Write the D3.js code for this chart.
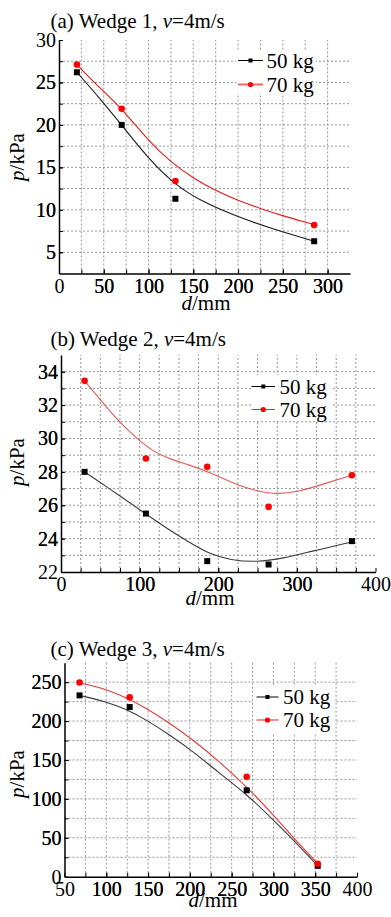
<!DOCTYPE html>
<html>
<head>
<meta charset="utf-8">
<script src="https://cdn.jsdelivr.net/npm/d3@7"></script>
<style>
body { margin: 0; background: #fff; }
</style>
</head>
<body>
<svg id="chart" width="391" height="917"></svg>
<script>
// (a) Wedge 1
var dA = [20, 70, 130, 285];
var pA50 = [26.2, 20.0, 11.3, 6.3];
var pA70 = [27.1, 21.9, 13.4, 8.2];
var fitDA50 = [20, 45, 70, 100, 130, 160, 200, 240, 285];
var fitPA50 = [26.2, 23.2, 20.0, 16.0, 12.9, 10.95, 9.15, 7.7, 6.3];
var fitDA70 = [20, 45, 70, 100, 125, 150, 175, 200, 225, 250, 275, 285];
var fitPA70 = [27.1, 24.4, 21.95, 18.1, 15.6, 13.7, 12.25, 11.1, 10.15, 9.3, 8.55, 8.25];
var xTicksA = [0, 50, 100, 150, 200, 250, 300];
var yTicksA = [5, 10, 15, 20, 25, 30];

// (b) Wedge 2
var dB = [30, 108, 186, 264, 370];
var pB50 = [28.0, 25.5, 22.65, 22.45, 23.85];
var pB70 = [33.45, 28.8, 28.3, 25.9, 27.8];
var fitDB50 = [30, 77, 107, 132, 162, 190, 215, 249, 283, 317, 370];
var fitPB50 = [28.0, 26.5, 25.5, 24.7, 23.8, 23.05, 22.72, 22.58, 22.82, 23.22, 23.8];
var fitDB70 = [30, 73, 98, 120, 141, 162, 190, 232, 270, 304, 338, 370];
var fitPB70 = [33.45, 31.0, 29.93, 29.13, 28.73, 28.43, 27.97, 27.03, 26.62, 26.82, 27.33, 27.8];
var xTicksB = [0, 100, 200, 300, 400];
var yTicksB = [22, 24, 26, 28, 30, 32, 34];

// (c) Wedge 3
var dC = [68, 128, 268, 353];
var pC50 = [233, 218, 111, 14];
var pC70 = [249.5, 230.5, 128.5, 16.7];
var fitDC50 = [68, 96, 124, 148, 176, 204, 233, 268, 300, 326, 353];
var fitPC50 = [232.8, 226.3, 215.3, 201.5, 182.2, 160.8, 135, 106, 72.9, 45, 14];
var fitDC70 = [68, 96, 124, 148, 176, 204, 233, 268, 300, 326, 353];
var fitPC70 = [249, 242.3, 230.2, 216.5, 197.3, 175.8, 150, 115.7, 79.4, 47.2, 17];
var xTicksC = [50, 100, 150, 200, 250, 300, 350, 400];
var yTicksC = [0, 50, 100, 150, 200, 250];

var seriesNames = ["50 kg", "70 kg"];

var FONT = "'Liberation Serif'";
var svg = d3.select("#chart");

function zip(a, b) {
    return a.map(function(v, i) { return [v, b[i]]; });
}

function drawPanel(cfg) {
    var g = svg.append("g");
    var x = d3.scaleLinear().domain(cfg.xDomain).range([cfg.left, cfg.right]);
    var y = d3.scaleLinear().domain(cfg.yDomain).range([cfg.bottom, cfg.top]);

    var xGrid = d3.range(cfg.xDomain[0] + cfg.xStep, cfg.xDomain[1] - cfg.xStep / 2, cfg.xStep);
    var yGrid = d3.range(cfg.yDomain[0] + cfg.yStep, cfg.yDomain[1] - cfg.yStep / 2, cfg.yStep);

    // dotted grid
    g.selectAll(".gx").data(xGrid).enter().append("line")
        .attr("x1", function(d) { return x(d); })
        .attr("x2", function(d) { return x(d); })
        .attr("y1", cfg.bottom).attr("y2", cfg.top)
        .attr("stroke", "#8a8a8a").attr("stroke-width", 0.9)
        .attr("stroke-dasharray", "2,2");
    g.selectAll(".gy").data(yGrid).enter().append("line")
        .attr("x1", cfg.left).attr("x2", cfg.right)
        .attr("y1", function(d) { return y(d); })
        .attr("y2", function(d) { return y(d); })
        .attr("stroke", "#8a8a8a").attr("stroke-width", 0.9)
        .attr("stroke-dasharray", "2,2");

    // white box behind legend
    g.append("rect")
        .attr("x", cfg.legBox[0]).attr("y", cfg.legBox[1])
        .attr("width", cfg.legBox[2]).attr("height", cfg.legBox[3])
        .attr("fill", "#fff");

    // axes
    var ax = g.append("g")
        .attr("transform", "translate(0," + cfg.bottom + ")")
        .call(d3.axisBottom(x).tickValues(xGrid.concat(cfg.xTicks))
            .tickSizeInner(-4).tickSizeOuter(0).tickPadding(5)
            .tickFormat(function(d) { return cfg.xTicks.indexOf(d) >= 0 ? d : ""; }));
    var ay = g.append("g")
        .attr("transform", "translate(" + cfg.left + ",0)")
        .call(d3.axisLeft(y).tickValues(yGrid.concat(cfg.yTicks))
            .tickSizeInner(-4).tickSizeOuter(0).tickPadding(3)
            .tickFormat(function(d) { return cfg.yTicks.indexOf(d) >= 0 ? d : ""; }));
    [ax, ay].forEach(function(a) {
        a.attr("font-family", null).attr("font-size", null);
        a.select(".domain").attr("stroke", "#000").attr("stroke-width", 1.5);
        a.selectAll(".tick line").attr("stroke", "#000").attr("stroke-width", 1);
        a.selectAll(".tick text").style("font-family", FONT)
            .style("font-size", "20px").attr("fill", "#000");
    });

    // fitted curves
    var line = d3.line()
        .x(function(d) { return x(d[0]); })
        .y(function(d) { return y(d[1]); })
        .curve(d3.curveBasis);
    g.append("path").datum(zip(cfg.fit50[0], cfg.fit50[1]))
        .attr("fill", "none").attr("stroke", cfg.col50).attr("stroke-width", 1.1)
        .attr("d", line);
    g.append("path").datum(zip(cfg.fit70[0], cfg.fit70[1]))
        .attr("fill", "none").attr("stroke", cfg.col70).attr("stroke-width", 1.1)
        .attr("d", line);

    // points
    g.selectAll(".sq").data(zip(cfg.d, cfg.p50)).enter().append("rect")
        .attr("x", function(d) { return x(d[0]) - 3; })
        .attr("y", function(d) { return y(d[1]) - 3; })
        .attr("width", 6).attr("height", 6)
        .attr("fill", "#000");
    g.selectAll(".ci").data(zip(cfg.d, cfg.p70)).enter().append("circle")
        .attr("cx", function(d) { return x(d[0]); })
        .attr("cy", function(d) { return y(d[1]); })
        .attr("r", 3.3)
        .attr("fill", "#ff0000");

    // legend
    var lg = cfg.leg;
    g.append("line").attr("x1", lg.x1).attr("x2", lg.x2).attr("y1", lg.y1).attr("y2", lg.y1)
        .attr("stroke", "#000").attr("stroke-width", 1);
    g.append("rect").attr("x", (lg.x1 + lg.x2) / 2 - 2).attr("y", lg.y1 - 2)
        .attr("width", 4).attr("height", 4).attr("fill", "#000");
    g.append("line").attr("x1", lg.x1).attr("x2", lg.x2).attr("y1", lg.y2).attr("y2", lg.y2)
        .attr("stroke", cfg.legRed).attr("stroke-width", cfg.legRedW);
    g.append("circle").attr("cx", (lg.x1 + lg.x2) / 2).attr("cy", lg.y2).attr("r", 2.6)
        .attr("fill", "#ff0000");
    g.append("text").attr("x", lg.tx).attr("y", lg.y1 + 7).style("font-family", FONT)
        .style("font-size", "21px").text(seriesNames[0]);
    g.append("text").attr("x", lg.tx).attr("y", lg.y2 + 7).style("font-family", FONT)
        .style("font-size", "21px").text(seriesNames[1]);

    // titles
    var t = g.append("text").attr("x", 50.5).attr("y", cfg.titleY)
        .style("font-family", FONT).style("font-size", "21px");
    t.append("tspan").text(cfg.title + ", ");
    t.append("tspan").style("font-style", "italic").text("v");
    t.append("tspan").text("=4m/s");

    var xl = g.append("text").attr("x", cfg.xLabX).attr("y", cfg.xLabY)
        .attr("text-anchor", "middle").style("font-family", FONT).style("font-size", "21px");
    xl.append("tspan").style("font-style", "italic").text("d");
    xl.append("tspan").text("/mm");

    var yl = g.append("text")
        .attr("transform", "translate(24," + cfg.yLabY + ") rotate(-90)")
        .attr("text-anchor", "middle").style("font-family", FONT).style("font-size", "21px");
    yl.append("tspan").style("font-style", "italic").text("p");
    yl.append("tspan").text("/kPa");
}

drawPanel({
    xDomain: [0, 325], yDomain: [2.5, 30], xStep: 25, yStep: 2.5,
    left: 59, right: 350, top: 40, bottom: 273.5,
    xTicks: xTicksA, yTicks: yTicksA,
    d: dA, p50: pA50, p70: pA70,
    fit50: [fitDA50, fitPA50], fit70: [fitDA70, fitPA70],
    col50: "#1a1a1a", col70: "#e41a1a", legRed: "#ee6666", legRedW: 2,
    legBox: [236, 50, 80, 43],
    leg: { x1: 238, x2: 263, y1: 60.5, y2: 84.5, tx: 266.5 },
    title: "(a) Wedge 1", titleY: 28,
    xLabX: 206, xLabY: 310, yLabY: 157
});

drawPanel({
    xDomain: [0, 400], yDomain: [22, 35], xStep: 25, yStep: 1,
    left: 61, right: 375.5, top: 355, bottom: 572,
    xTicks: xTicksB, yTicks: yTicksB,
    d: dB, p50: pB50, p70: pB70,
    fit50: [fitDB50, fitPB50], fit70: [fitDB70, fitPB70],
    col50: "#3a3a3a", col70: "#e05a5a", legRed: "#e03030", legRedW: 1,
    legBox: [251, 375, 82, 45],
    leg: { x1: 251.5, x2: 275, y1: 386.5, y2: 409.5, tx: 279.5 },
    title: "(b) Wedge 2", titleY: 346,
    xLabX: 210, xLabY: 605, yLabY: 462
});

drawPanel({
    xDomain: [50, 400], yDomain: [0, 275], xStep: 25, yStep: 25,
    left: 64.5, right: 357, top: 662.7, bottom: 876.7,
    xTicks: xTicksC, yTicks: yTicksC,
    d: dC, p50: pC50, p70: pC70,
    fit50: [fitDC50, fitPC50], fit70: [fitDC70, fitPC70],
    col50: "#3a3a3a", col70: "#e03a3a", legRed: "#e02020", legRedW: 1,
    legBox: [253, 687, 81, 47],
    leg: { x1: 256.5, x2: 278.5, y1: 697, y2: 720, tx: 283 },
    title: "(c) Wedge 3", titleY: 656,
    xLabX: 213, xLabY: 907, yLabY: 774
});
</script>
</body>
</html>
